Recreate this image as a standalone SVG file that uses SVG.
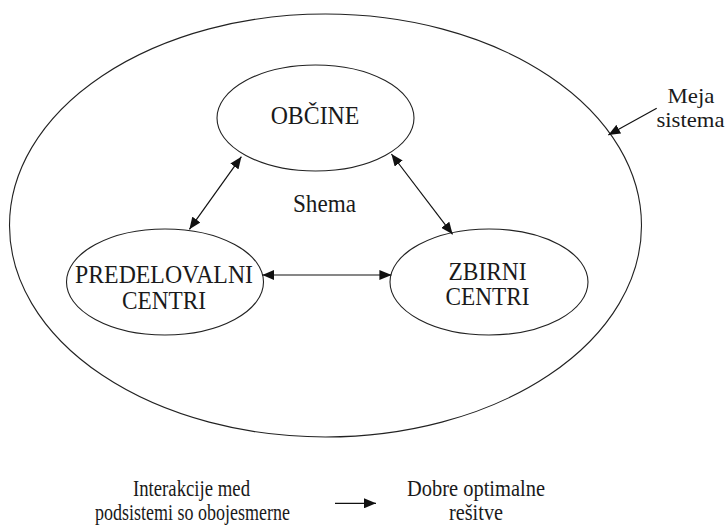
<svg xmlns="http://www.w3.org/2000/svg" width="728" height="525" viewBox="0 0 728 525">
<style>
.e{fill:none;stroke:#222;stroke-width:1.1}
.c{fill:none;stroke:#111;stroke-width:1.2}
text{font-family:'Liberation Serif','DejaVu Serif','Times New Roman',serif;fill:#1a1a1a;text-anchor:middle}
.t{font-size:25px}
.m{font-size:22px}
.s{font-size:23px}
</style>
<defs>
<marker id="ah" viewBox="0 0 12 10" refX="12" refY="5" markerWidth="12" markerHeight="10" markerUnits="userSpaceOnUse" orient="auto-start-reverse">
<path d="M0,0 L12,5 L0,10 Z" fill="#111"/>
</marker>
</defs>
<g id="system">
<ellipse class="e" cx="325.5" cy="225.5" rx="316" ry="211.5"/>
<text class="t" x="324.5" y="212" textLength="63" lengthAdjust="spacingAndGlyphs">Shema</text>
</g>
<g id="obcine">
<ellipse class="e" cx="315.5" cy="118" rx="98.5" ry="53"/>
<text class="t" x="315" y="124" textLength="88.7" lengthAdjust="spacingAndGlyphs">OBČINE</text>
</g>
<g id="predelovalni">
<ellipse class="e" cx="165" cy="282" rx="98.5" ry="53"/>
<text class="t" x="164" y="283" textLength="178" lengthAdjust="spacingAndGlyphs">PREDELOVALNI</text>
<text class="t" x="164" y="309" textLength="84" lengthAdjust="spacingAndGlyphs">CENTRI</text>
</g>
<g id="zbirni">
<ellipse class="e" cx="489" cy="282" rx="99" ry="53"/>
<text class="t" x="487.5" y="280" textLength="78" lengthAdjust="spacingAndGlyphs">ZBIRNI</text>
<text class="t" x="487.5" y="305" textLength="84" lengthAdjust="spacingAndGlyphs">CENTRI</text>
</g>
<g id="meja">
<text class="m" x="691" y="103" textLength="47" lengthAdjust="spacingAndGlyphs">Meja</text>
<text class="m" x="690.5" y="126.5" textLength="68" lengthAdjust="spacingAndGlyphs">sistema</text>
</g>
<g id="legend">
<text class="s" x="191.5" y="496" textLength="117" lengthAdjust="spacingAndGlyphs">Interakcije med</text>
<text class="s" x="192.5" y="520" textLength="195" lengthAdjust="spacingAndGlyphs">podsistemi so obojesmerne</text>
<text class="s" x="476" y="496" textLength="138" lengthAdjust="spacingAndGlyphs">Dobre optimalne</text>
<text class="s" x="476" y="520" textLength="54" lengthAdjust="spacingAndGlyphs">rešitve</text>
</g>
<g id="connectors">
<line class="c" x1="241.4" y1="156.7" x2="189.4" y2="229.3" marker-start="url(#ah)" marker-end="url(#ah)"/>
<line class="c" x1="391.4" y1="154" x2="452.6" y2="234.3" marker-start="url(#ah)" marker-end="url(#ah)"/>
<line class="c" x1="262.3" y1="275" x2="391.4" y2="275" marker-start="url(#ah)" marker-end="url(#ah)"/>
<line class="c" x1="656.7" y1="108.3" x2="608.3" y2="135" marker-end="url(#ah)"/>
<line class="c" x1="335" y1="503.3" x2="376" y2="503.3" marker-end="url(#ah)"/>
</g>
</svg>
